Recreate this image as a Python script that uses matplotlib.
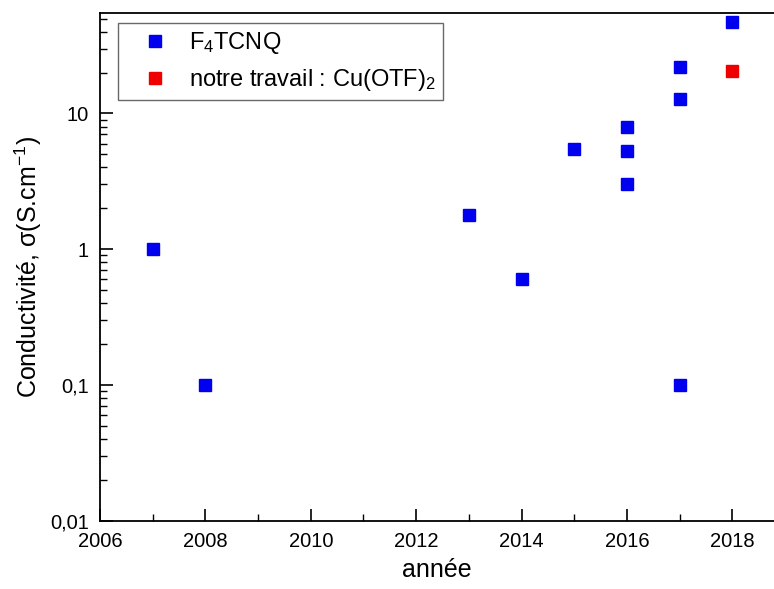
import numpy as np
import matplotlib.pyplot as plt
from matplotlib.ticker import FixedLocator, FuncFormatter, LogLocator, MultipleLocator

plt.rcParams['font.family'] = ['Liberation Sans', 'DejaVu Sans']
plt.rcParams['mathtext.default'] = 'regular'

# F4TCNQ literature values
years_f4 = [2007, 2008, 2013, 2014, 2015, 2016, 2016, 2016, 2017, 2017, 2017, 2018]
cond_f4 = [1.0, 0.1, 1.8, 0.6, 5.5, 8.0, 5.3, 3.0, 22.0, 12.7, 0.1, 47.5]
# this work
years_cu = [2018]
cond_cu = [20.5]

fig = plt.figure(figsize=(7.74, 5.89), dpi=100)
ax = fig.add_axes([0.1292, 0.116, 0.8708, 0.862])

ax.plot(years_f4, cond_f4, 's', color='#0000ee', ms=8, mec='#0000ee',
        label='F$_4$TCNQ')
ax.plot(years_cu, cond_cu, 's', color='#ee0000', ms=8, mec='#ee0000',
        label='notre travail : Cu(OTF)$_2$')

ax.set_yscale('log')
ax.set_xlim(2006, 2018.79)
ax.set_ylim(0.01, 55)

ax.xaxis.set_major_locator(MultipleLocator(2))
ax.xaxis.set_minor_locator(MultipleLocator(1))
ax.yaxis.set_major_locator(FixedLocator([0.01, 0.1, 1, 10]))
ax.yaxis.set_minor_locator(LogLocator(base=10, subs=np.arange(2, 10)))
ax.yaxis.set_major_formatter(FuncFormatter(lambda v, p: ('%g' % v).replace('.', ',')))

ax.tick_params(which='major', direction='in', length=9, width=1.2, labelsize=14.5, pad=8)
ax.tick_params(which='minor', direction='in', length=5, width=1.0)
ax.tick_params(axis='y', which='minor', labelleft=False)
ax.spines['right'].set_visible(False)
for s in ['left', 'bottom', 'top']:
    ax.spines[s].set_linewidth(1.3)

ax.set_xlabel('année', fontsize=18, labelpad=5)
ax.set_ylabel('Conductivité, σ(S.cm$^{-1}$)', fontsize=18, labelpad=4)

leg = ax.legend(loc='upper left', bbox_to_anchor=(0.027, 0.98), fontsize=17,
                frameon=True, fancybox=False, edgecolor='#444444',
                borderaxespad=0, handletextpad=0.2, borderpad=0.3,
                labelspacing=0.45, handlelength=2.5)
leg.get_frame().set_linewidth(1.0)

fig.savefig('out.png', dpi=100)
